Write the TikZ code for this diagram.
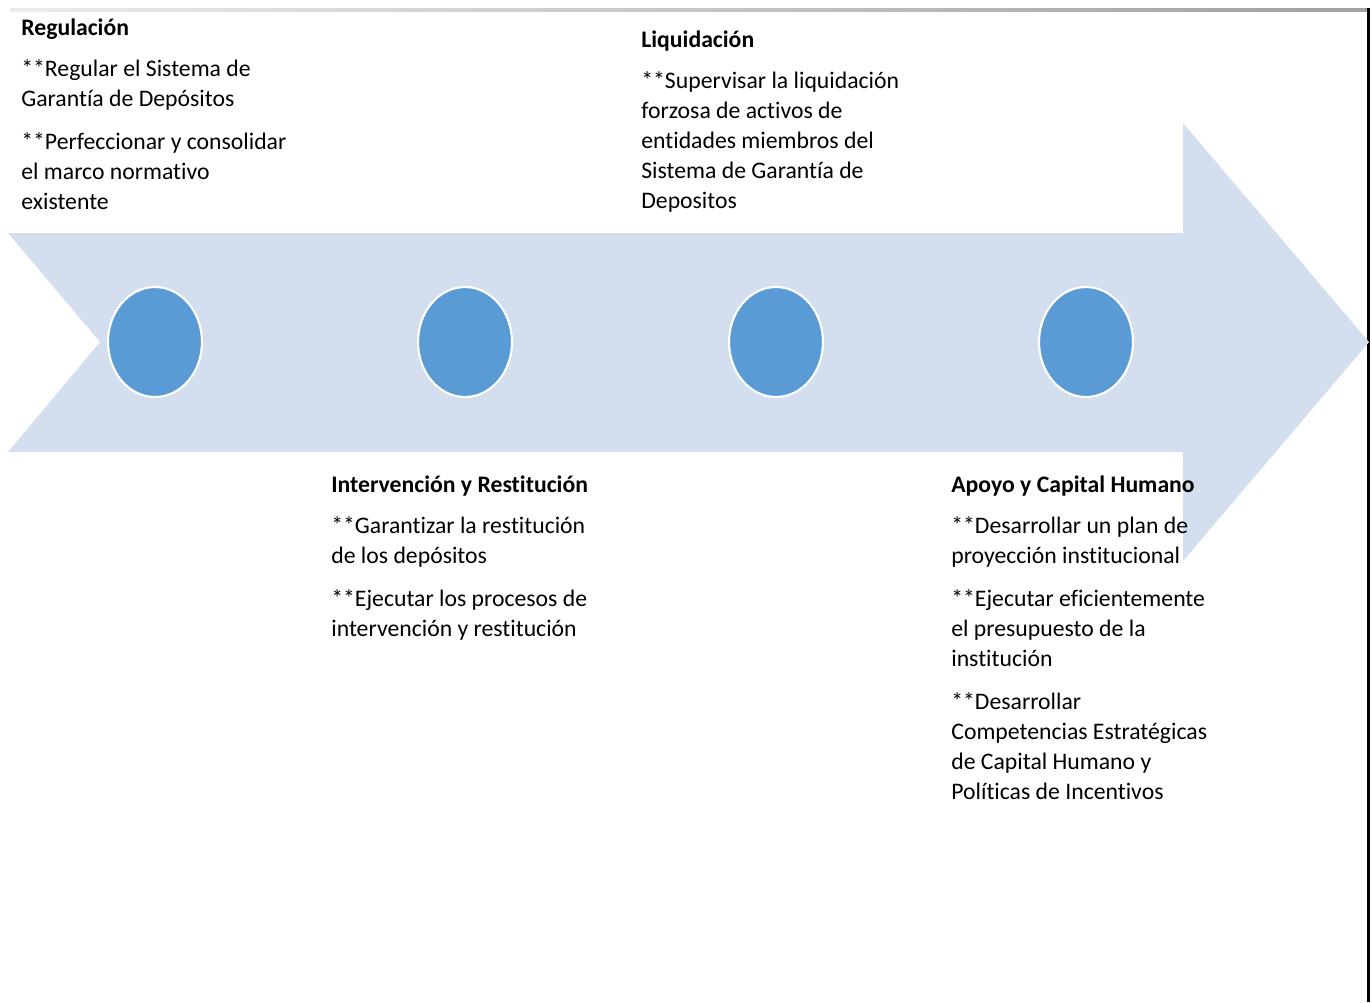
\documentclass[tikz,border=0pt]{standalone}
\usepackage{fontspec}
\setmainfont{Carlito}[Ligatures=NoCommon]
\usepackage{xcolor}
\usetikzlibrary{shapes.geometric}
\definecolor{arrowFill}{HTML}{D3DFEE}
\definecolor{dotBlue}{HTML}{5B9BD5}
\tikzset{
  stagetext/.style={anchor=north west, inner sep=0pt, align=left, font=\fontsize{13.5}{17.07}\selectfont},
  stagedot/.style={ellipse, fill=dotBlue, draw=white, line width=1.2pt, inner sep=0pt, minimum width=1.88cm, minimum height=2.2cm}
}
\begin{document}
\begin{tikzpicture}[x=0.02cm, y=-0.02cm]
    \useasboundingbox (0,0) rectangle (1372,1002);
    \shade[left color=gray!15, right color=gray!75] (10,8) rectangle (1367,11);
    \fill[black] (1367,8) rectangle (1370,1002);
    \fill[arrowFill] (8,233) -- (1183,233) -- (1183,123) -- (1369,342) -- (1183,561) -- (1183,452) -- (8,452) -- (100,342) -- cycle;
    \foreach \n/\x in {1/155,2/465,3/776,4/1086}
        \node[stagedot] (dot\n) at (\x,342) {};
    \node[stagetext] (regulacion) at (21,18) {\textbf{Regulación}\\[6.8pt]
        {}**Regular el Sistema de\\ Garantía de Depósitos\\[7.4pt]
        {}**Perfeccionar y consolidar\\ el marco normativo\\ existente};
    \node[stagetext] (liquidacion) at (641,30) {\textbf{Liquidación}\\[6.8pt]
        {}**Supervisar la liquidación\\ forzosa de activos de\\ entidades miembros del\\ Sistema de Garantía de\\ Depositos};
    \node[stagetext] (intervencion) at (331,475) {\textbf{Intervención y Restitución}\\[6.8pt]
        {}**Garantizar la restitución\\ de los depósitos\\[7.4pt]
        {}**Ejecutar los procesos de\\ intervención y restitución};
    \node[stagetext] (apoyo) at (951,475) {\textbf{Apoyo y Capital Humano}\\[6.8pt]
        {}**Desarrollar un plan de\\ proyección institucional\\[7.4pt]
        {}**Ejecutar eficientemente\\ el presupuesto de la\\ institución\\[7.4pt]
        {}**Desarrollar\\ Competencias Estratégicas\\ de Capital Humano y\\ Políticas de Incentivos};
\end{tikzpicture}
\end{document}
